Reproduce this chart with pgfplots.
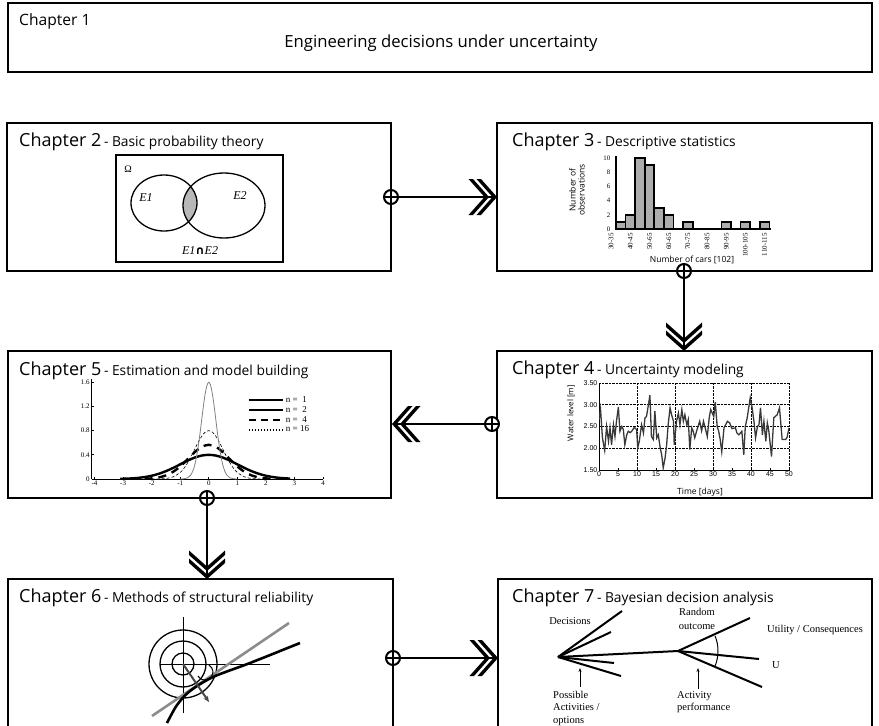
\documentclass[border=0pt]{standalone}
\usepackage{fontspec}
\setmainfont{Open Sans}
\newfontfamily\tnr{Liberation Serif}
\newfontfamily\hel{Liberation Sans}
\newfontfamily\dejavu{DejaVu Sans}
\usepackage{pgfplots}
\usepackage{pgfplotstable}
\pgfplotsset{compat=1.18}
\usetikzlibrary{arrows.meta}

\pgfplotstableread{
x y
37.5 1
42.5 2
47.5 10
52.5 9
57.5 3
62.5 2
72.5 1
92.5 1
102.5 1
112.5 1
}\histdata

\pgfplotstableread{
x y
0 2.65
0.4 2.90
0.9 2.24
1.5 1.95
2.0 2.50
2.5 2.16
2.9 2.47
3.3 2.08
3.8 2.54
4.2 2.27
4.6 2.62
5.1 2.95
5.5 2.39
6.0 2.50
6.4 2.43
6.8 2.08
7.3 2.31
7.7 2.39
8.2 2.36
8.6 2.39
9.3 2.48
9.9 2.43
10.2 2.01
10.6 2.16
11.2 2.54
11.7 2.35
12.1 2.70
12.5 2.73
13.0 3.00
13.4 3.22
13.8 2.27
14.3 2.20
14.7 2.85
15.2 2.24
15.6 2.31
16.1 2.01
16.5 1.85
16.9 1.55
17.4 1.78
17.8 2.08
18.2 2.54
18.7 2.93
19.1 2.77
19.6 2.62
19.8 2.08
20.4 2.62
20.9 2.81
21.3 2.54
21.8 2.89
22.2 2.62
22.6 2.77
23.1 2.54
23.5 2.66
23.9 1.97
24.4 2.47
24.8 2.39
25.2 2.24
25.7 2.40
26.5 2.62
27.0 2.40
27.5 2.62
28.0 2.45
28.5 2.27
29.0 2.70
29.4 2.89
29.8 2.81
30.2 2.73
30.6 3.06
31.1 2.50
31.5 2.39
31.9 2.20
32.3 1.92
32.9 2.47
33.8 2.62
34.4 2.58
35.0 2.45
35.9 2.47
36.3 2.35
36.8 2.31
37.6 2.39
38.1 1.85
38.5 2.50
39.0 2.70
39.4 2.93
39.8 3.16
40.3 2.93
40.8 2.60
41.2 2.24
41.7 2.50
42.1 2.54
42.5 2.93
43.0 2.31
43.4 2.62
43.9 2.16
44.3 2.58
44.7 2.39
45.4 1.81
46.0 2.70
46.5 2.74
46.9 2.77
47.5 2.93
48.2 2.20
49.1 2.20
49.5 2.25
50.0 2.47
}\waterdata

\pgfplotstableread{
x y
-3.1 0.0033
-2.75 0.0091
-2.5 0.0175
-2.25 0.0317
-2 0.0540
-1.75 0.0863
-1.5 0.1295
-1.25 0.1826
-1 0.2420
-0.75 0.3011
-0.5 0.3521
-0.25 0.3867
0 0.3989
0.25 0.3867
0.5 0.3521
0.75 0.3011
1 0.2420
1.25 0.1826
1.5 0.1295
1.75 0.0863
2 0.0540
2.25 0.0317
2.5 0.0175
2.85 0.0069
}\nA

\pgfplotstableread{
x y
-2.25 0.0036
-2 0.0103
-1.75 0.0264
-1.5 0.0595
-1.25 0.1182
-1 0.2076
-0.75 0.3215
-0.5 0.4394
-0.25 0.5300
0 0.5642
0.25 0.5300
0.5 0.4394
0.75 0.3215
1 0.2076
1.25 0.1182
1.5 0.0595
1.75 0.0264
2 0.0103
2.25 0.0036
}\nB

\pgfplotstableread{
x y
-2 0.0003
-1.75 0.0017
-1.5 0.0089
-1.25 0.0351
-1 0.1080
-0.875 0.1726
-0.75 0.2591
-0.625 0.3653
-0.5 0.4839
-0.375 0.6023
-0.25 0.7041
-0.125 0.7733
0 0.7979
0.125 0.7733
0.25 0.7041
0.375 0.6023
0.5 0.4839
0.625 0.3653
0.75 0.2591
0.875 0.1726
1 0.1080
1.25 0.0351
1.5 0.0089
1.75 0.0017
2 0.0003
}\nC

\pgfplotstableread{
x y
-1 0.0003
-0.875 0.0035
-0.75 0.0177
-0.625 0.0701
-0.5625 0.1270
-0.5 0.2160
-0.4375 0.3452
-0.375 0.5182
-0.3125 0.7306
-0.25 0.9679
-0.1875 1.2045
-0.125 1.4083
-0.0625 1.5467
0 1.5958
0.0625 1.5467
0.125 1.4083
0.1875 1.2045
0.25 0.9679
0.3125 0.7306
0.375 0.5182
0.4375 0.3452
0.5 0.2160
0.5625 0.1270
0.625 0.0701
0.75 0.0177
0.875 0.0035
1 0.0003
}\nD

\newcommand{\ttl}[2]{{\fontsize{18}{21}\selectfont #1} {\fontsize{13.8}{16}\selectfont - #2}}
\newcommand{\chev}[3]{%
\begin{scope}[shift={(#1,#2)}, rotate=#3]
\fill (0,0) -- (-16,-18) -- (-20.5,-18) -- (-4.5,0) -- (-20.5,18) -- (-16,18) -- cycle;
\fill (-8,0) -- (-24,-18) -- (-28.5,-18) -- (-12.5,0) -- (-28.5,18) -- (-24,18) -- cycle;
\end{scope}}
\newcommand{\oplusat}[2]{%
\draw[line width=2, fill=white] (#1,#2) circle (7);
\draw[line width=2] ({#1-7},#2) -- ({#1+7},#2) (#1,{#2-7}) -- (#1,{#2+7});}

\begin{document}
\begin{tikzpicture}[x=1pt,y=-1pt]
\path[use as bounding box] (0,0) rectangle (879,726);

% ---------- boxes ----------
\draw[line width=2.5] (8,3) rectangle (872,72);
\draw[line width=2.5] (7,123) rectangle (391,271);
\draw[line width=2.5] (497,123) rectangle (872,271);
\draw[line width=2.5] (8,351) rectangle (391,498);
\draw[line width=2.5] (497,351) rectangle (872,498);
\draw[line width=2.5] (8,740) -- (8,579) -- (393,579) -- (393,740);
\draw[line width=2.5] (498,740) -- (498,579) -- (872,579) -- (872,740);

% ---------- titles ----------
\node[anchor=base west, inner sep=0, font=\fontsize{15.6}{19}\selectfont] at (19,25) {Chapter 1};
\node[anchor=base, inner sep=0, font=\fontsize{16.7}{19}\selectfont] at (441,47) {Engineering decisions under uncertainty};
\node[anchor=base west, inner sep=0] at (19,146) {\ttl{Chapter 2}{Basic probability theory}};
\node[anchor=base west, inner sep=0] at (512,146) {\ttl{Chapter 3}{Descriptive statistics}};
\node[anchor=base west, inner sep=0] at (512,374) {\ttl{Chapter 4}{Uncertainty modeling}};
\node[anchor=base west, inner sep=0] at (19,375) {\ttl{Chapter 5}{Estimation and model building}};
\node[anchor=base west, inner sep=0] at (19,602) {\ttl{Chapter 6}{Methods of structural reliability}};
\node[anchor=base west, inner sep=0] at (512,602) {\ttl{Chapter 7}{Bayesian decision analysis}};

% ---------- connectors ----------
\draw[line width=2.5] (391,197) -- (496,197);
\chev{497}{197}{0}
\oplusat{391}{197}
\draw[line width=2.5] (684,271) -- (684,350);
\chev{684}{351}{-90}
\oplusat{684}{271}
\draw[line width=2.5] (492,424) -- (393,424);
\chev{392}{424}{180}
\oplusat{492}{424}
\draw[line width=2.5] (207,498) -- (207,578);
\chev{207}{579}{-90}
\oplusat{207}{498}
\draw[line width=2.5] (393,658) -- (497,658);
\chev{498}{658}{0}
\oplusat{393}{658}

% ---------- chapter 2 Venn ----------
\draw[line width=1.5] (116,155) rectangle (283,262);
\begin{scope}
\clip (164,203) ellipse [x radius=33, y radius=28];
\fill[black!28] (224,205.5) ellipse [x radius=41, y radius=32.5];
\end{scope}
\draw[line width=1.3] (164,203) ellipse [x radius=33, y radius=28];
\draw[line width=1.3] (224,205.5) ellipse [x radius=41, y radius=32.5];
\node[font=\tnr\fontsize{10}{12}\selectfont] at (128,169) {Ω};
\node[font=\tnr\itshape\fontsize{12}{14}\selectfont] at (146,198) {E1};
\node[font=\tnr\itshape\fontsize{12}{14}\selectfont] at (240,196) {E2};
\node[font=\fontsize{12}{14}\selectfont] at (200,251) {{\tnr\itshape E1}{\dejavu\bfseries\fontsize{11.5}{12}\selectfont ∩}{\tnr\itshape E2}};

% ---------- chapter 3 histogram ----------
\coordinate (c3) at (606.4,229);
\begin{axis}[at={(c3)}, anchor=south west, scale only axis,
  width=166.8pt, height=73pt, xmin=30, xmax=117, ymin=0, ymax=10.3,
  axis line style={draw=none}, major tick length=0pt,
  xtick={32.5,42.5,52.5,62.5,72.5,82.5,92.5,102.5,112.5},
  xticklabels={30-35,40-45,50-65,60-65,70-75,80-85,90-95,100-105,110-115},
  ytick={0,2,4,6,8,10},
  /pgf/number format/assume math mode=true,
  xticklabel shift=3pt,
  xticklabel style={rotate=90, anchor=east, font=\tnr\fontsize{7}{7.5}\selectfont, inner sep=1pt},
  yticklabel style={font=\tnr\fontsize{6.8}{7}\selectfont, xshift=5pt, inner sep=1pt},
  clip=false]
\addplot[ybar, bar width=5, fill=black!32, draw=black, line width=1.7] table {\histdata};
\draw[line width=1.9] (axis cs:35,10.3) -- (axis cs:35,0) -- (axis cs:116,0);
\end{axis}
\node[rotate=90, align=center, font=\fontsize{8.5}{9}\selectfont] at (577,190) {Number of\\observations};
\node[font=\fontsize{8.5}{10}\selectfont] at (692,260) {Number of cars [102]};

% ---------- chapter 4 water level ----------
\coordinate (c4) at (599,470);
\begin{axis}[at={(c4)}, anchor=south west, scale only axis,
  width=190pt, height=87pt, xmin=0, xmax=50, ymin=1.5, ymax=3.5,
  axis x line*=bottom, axis y line*=left, axis line style={-, line width=0.9},
  xtick={0,5,...,50}, ytick={1.5,2,2.5,3,3.5},
  extra x ticks={10,20,30,40,50}, extra x tick labels={},
  extra x tick style={grid=major},
  ymajorgrids=true,
  grid style={black, densely dotted, line width=0.8},
  major tick length=2pt, tick style={black, line width=0.6},
  /pgf/number format/assume math mode=true,
  yticklabel={\pgfmathprintnumber[fixed, fixed zerofill, precision=2]{\tick}},
  tick label style={font=\hel\fontsize{7}{7}\selectfont, inner sep=1.5pt}]
\addplot[black!78, line width=1.3] table {\waterdata};
\end{axis}
\node[rotate=90, font=\fontsize{8}{9}\selectfont] at (571,413) {Water level [m]};
\node[font=\fontsize{8.5}{10}\selectfont] at (700,492) {Time [days]};

% ---------- chapter 5 normal curves ----------
\coordinate (c5) at (91.7,479);
\begin{axis}[at={(c5)}, anchor=south west, scale only axis,
  width=231.3pt, height=100pt, xmin=-4.1, xmax=4, ymin=0, ymax=1.65,
  axis x line*=bottom, axis y line*=left, axis line style={-, line width=1},
  xtick={-4,-3,...,4}, ytick={0,0.4,0.8,1.2,1.6},
  yticklabels={0,0.4,0.8,1.2,1.6},
  major tick length=2pt, tick style={black, line width=0.6},
  /pgf/number format/assume math mode=true,
  tick label style={font=\tnr\fontsize{7}{7}\selectfont, inner sep=2pt},
  legend style={draw=none, fill=none, at={(0.66,0.87)}, anchor=north west,
    font=\tnr\fontsize{9}{9}\selectfont, row sep=-1.5pt},
  legend cell align=left,
  legend image code/.code={\draw[#1] (0pt,0pt) -- (34pt,0pt);}]
\addlegendimage{black, line width=2.4}
\addlegendentry{n =\ \ 1}
\addlegendimage{black, line width=2}
\addlegendentry{n =\ \ 2}
\addlegendimage{black, line width=2, dash pattern=on 7pt off 5pt}
\addlegendentry{n =\ \ 4}
\addlegendimage{black, line width=1.8, dash pattern=on 1.6pt off 1.4pt}
\addlegendentry{n = 16}
\addplot[forget plot, smooth, black, line width=2.4] table {\nA};
\addplot[forget plot, smooth, black, line width=2.4, dash pattern=on 8pt off 6pt] table {\nB};
\addplot[forget plot, smooth, black, line width=0.6, dash pattern=on 3pt off 2pt] table {\nC};
\addplot[forget plot, smooth, black!50, line width=0.8] table {\nD};
\end{axis}

% ---------- chapter 6 reliability sketch ----------
\draw[line width=1] (183,617) -- (183,713);
\draw[line width=1] (160,664) -- (270,664);
\draw[line width=1.3] (183,664) circle (11);
\draw[line width=1.3] (183,664) circle (23);
\draw[line width=1.3] (183,664) circle (34);
\draw[black!45, line width=2.6] (152,716) -- (289,623);
\draw[line width=2.6] plot[smooth] coordinates {(167,723) (177,705) (190,691) (213,677) (250,663) (300,643)};
\draw[line width=1] (198,676) arc[start angle=150, end angle=-60, radius=8];
\draw[black!72, line width=2, -{Stealth[length=6pt,width=5pt]}] (183,664) -- (209,702);

% ---------- chapter 7 decision tree ----------
\begin{scope}[line width=2]
\draw (558,657) -- (622,611);
\draw (558,657) -- (611,632);
\draw (558,657) -- (678,651);
\draw (558,657) -- (614,663);
\draw (558,657) -- (621,676);
\draw (678,651) -- (750,618);
\draw (678,651) -- (759,659);
\draw (678,651) -- (762,687);
\end{scope}
\draw[line width=1] (678,651) ++(22:40) arc[start angle=22, end angle=-22, radius=40];
\draw[line width=0.9, -{Stealth[length=4pt,width=3pt]}] (580,687) -- (580,668);
\draw[line width=0.9, -{Stealth[length=4pt,width=3pt]}] (698,689) -- (698,668);
\begin{scope}[font=\tnr\fontsize{10.5}{12.5}\selectfont]
\node at (570,621) {Decisions};
\node at (697,612) {Random};
\node at (697,627) {outcome};
\node at (815,630) {Utility / Consequences};
\node at (776,665) {U};
\node[anchor=west, align=left, inner sep=0] at (553,708) {Possible\\Activities /\\options};
\node[anchor=west, align=left, inner sep=0] at (677,702) {Activity\\performance};
\end{scope}
\end{tikzpicture}
\end{document}
